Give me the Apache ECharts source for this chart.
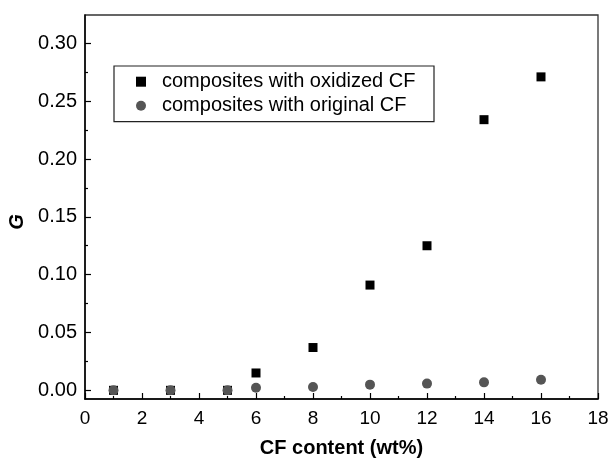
<!DOCTYPE html>
<html>
<head>
<meta charset="utf-8">
<script src="https://cdn.jsdelivr.net/npm/echarts@6/dist/echarts.min.js"></script>
<style>html,body{margin:0;padding:0;background:#fff}#c{width:611px;height:458px}</style>
</head>
<body>
<div id="c"></div>
<script>
const cfContent = [1, 3, 5, 6, 8, 10, 12, 14, 16];
const oxidizedG = [0, 0, 0, 0.015, 0.037, 0.091, 0.125, 0.234, 0.271];
const originalG = [0, 0, 0, 0.0023, 0.0028, 0.0049, 0.0058, 0.0069, 0.0092];
const yMajorTicks = [0, 0.05, 0.10, 0.15, 0.20, 0.25, 0.30];
const yMinorTicks = [0.025, 0.075, 0.125, 0.175, 0.225, 0.275];
const seriesNames = ['composites with oxidized CF', 'composites with original CF'];
const xTitle = 'CF content (wt%)';
const yTitle = 'G';

const FONT = "'Liberation Sans', Arial, Helvetica, sans-serif";
const chart = echarts.init(document.getElementById('c'), null, {renderer: 'canvas'});
const yMin = -0.0075, yMax = 0.3245;
chart.setOption({
  animation: false,
  backgroundColor: '#fff',
  textStyle: {fontFamily: FONT, color: '#000'},
  grid: {left: 85, right: 13, top: 15, bottom: 59, containLabel: false, outerBoundsMode: 'none',
         show: true, borderColor: '#333', borderWidth: 1.3, backgroundColor: 'transparent'},
  legend: {
    orient: 'vertical', left: 136, top: 69.7, itemWidth: 10, itemHeight: 10, itemGap: 0,
    padding: 0,
    textStyle: {fontFamily: FONT, fontSize: 20, color: '#000', lineHeight: 24, padding: [0, 0, 0, 11]},
    data: [{name: seriesNames[0], icon: 'rect'}, {name: seriesNames[1], icon: 'circle'}]
  },
  graphic: [{type: 'rect', shape: {x: 114, y: 66, width: 320, height: 55.7}, style: {fill: 'none', stroke: '#222', lineWidth: 1.2}, z: 1}],
  xAxis: {
    type: 'value', min: 0, max: 18, interval: 2,
    name: xTitle, nameLocation: 'middle', nameGap: 39,
    nameTextStyle: {fontFamily: FONT, fontSize: 20, fontWeight: 'bold', color: '#000'},
    axisLine: {onZero: false, lineStyle: {color: '#000', width: 1.5}},
    axisTick: {inside: true, length: 6, lineStyle: {color: '#000', width: 1.2}},
    minorTick: {show: true, splitNumber: 2, length: 3, lineStyle: {color: '#000', width: 1.2}},
    axisLabel: {fontFamily: FONT, fontSize: 19, color: '#000', margin: 10},
    splitLine: {show: false}
  },
  yAxis: [{
    type: 'value', min: yMin, max: yMax,
    name: yTitle, nameLocation: 'middle', nameGap: 58, nameRotate: 90,
    nameTextStyle: {fontFamily: FONT, fontSize: 20, fontWeight: 'bold', fontStyle: 'italic', color: '#000', padding: [0, 0, 0, -30]},
    axisLine: {onZero: false, lineStyle: {color: '#000', width: 1.5}},
    axisTick: {inside: true, length: 6, customValues: yMajorTicks, lineStyle: {color: '#000', width: 1.2}},
    axisLabel: {fontFamily: FONT, fontSize: 20, color: '#000', margin: 8, customValues: yMajorTicks, formatter: v => v.toFixed(2)},
    splitLine: {show: false}
  }, {
    type: 'value', min: yMin, max: yMax, position: 'left',
    axisLine: {show: false},
    axisTick: {inside: true, length: 3, customValues: yMinorTicks, lineStyle: {color: '#000', width: 1.2}},
    axisLabel: {show: false},
    splitLine: {show: false}
  }],
  series: [{
    name: seriesNames[0], type: 'scatter', symbol: 'rect', symbolSize: 9,
    itemStyle: {color: '#000', opacity: 1},
    data: cfContent.map((x, i) => [x, oxidizedG[i]]), z: 2
  }, {
    name: seriesNames[1], type: 'scatter', symbol: 'circle', symbolSize: 10,
    itemStyle: {color: '#555', opacity: 1},
    data: cfContent.map((x, i) => [x, originalG[i]]), z: 3
  }]
});
</script>
</body>
</html>
